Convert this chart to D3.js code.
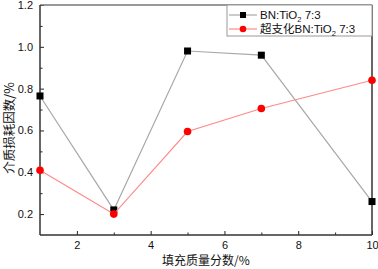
<!DOCTYPE html>
<html>
<head>
<meta charset="utf-8">
<script src="https://cdn.jsdelivr.net/npm/d3@7"></script>
<style>
  body { margin: 0; background: #fff; }
  svg { display: block; }
  .tick text { font-family: "Liberation Sans", Arial, sans-serif; font-size: 11px; fill: #111; }
</style>
</head>
<body>
<div id="chart"></div>
<script>
// data
const fillMass = [1, 3, 5, 7, 10];
const bnTio2 = [0.765, 0.22, 0.98, 0.96, 0.26];
const hbBnTio2 = [0.41, 0.20, 0.595, 0.705, 0.84];
const seriesNames = ["BN:TiO", "超支化BN:TiO"];
const xTicks = [2, 4, 6, 8, 10];
const yTicks = [0.2, 0.4, 0.6, 0.8, 1.0, 1.2];

const width = 378, height = 269;
const margin = { top: 5, right: 6, bottom: 34, left: 40 };
const w = width - margin.left - margin.right;
const h = height - margin.top - margin.bottom;

const svg = d3.select("#chart").append("svg")
  .attr("width", width)
  .attr("height", height);

const g = svg.append("g").attr("transform", `translate(${margin.left},${margin.top})`);

const x = d3.scaleLinear().domain([1, 10]).range([0, w]);
const y = d3.scaleLinear().domain([0.1, 1.2]).range([h, 0]);

// minor ticks first
g.append("g").attr("transform", `translate(0,${h})`)
  .call(d3.axisBottom(x).tickValues([3, 5, 7, 9]).tickSize(-2.5).tickFormat(""))
  .call(a => a.select(".domain").remove())
  .selectAll("line").attr("stroke", "#222");
g.append("g")
  .call(d3.axisLeft(y).tickValues([0.3, 0.5, 0.7, 0.9, 1.1]).tickSize(-2.5).tickFormat(""))
  .call(a => a.select(".domain").remove())
  .selectAll("line").attr("stroke", "#222");

// major ticks
const xAxis = g.append("g").attr("transform", `translate(0,${h})`)
  .call(d3.axisBottom(x).tickValues(xTicks).tickSize(-4).tickPadding(6).tickFormat(d3.format("d")));
xAxis.select(".domain").remove();
xAxis.selectAll("line").attr("stroke", "#222");

const yAxis = g.append("g")
  .call(d3.axisLeft(y).tickValues(yTicks).tickSize(-4).tickPadding(7).tickFormat(d3.format(".1f")));
yAxis.select(".domain").remove();
yAxis.selectAll("line").attr("stroke", "#222");

// frame
g.append("line").attr("x1", 0).attr("x2", w).attr("y1", 0).attr("y2", 0)
  .attr("stroke", "#777").attr("stroke-width", 1.5);
g.append("line").attr("x1", 0).attr("x2", 0).attr("y1", 0).attr("y2", h)
  .attr("stroke", "#333").attr("stroke-width", 1.5);
g.append("line").attr("x1", 0).attr("x2", w).attr("y1", h).attr("y2", h)
  .attr("stroke", "#333").attr("stroke-width", 1.5);
g.append("line").attr("x1", w).attr("x2", w).attr("y1", 0).attr("y2", h)
  .attr("stroke", "#333").attr("stroke-width", 1.5);

const line = d3.line().x(d => x(d[0])).y(d => y(d[1]));

// series 1: black squares, grey line
const s1 = fillMass.map((v, i) => [v, bnTio2[i]]);
g.append("path").datum(s1).attr("d", line)
  .attr("fill", "none").attr("stroke", "#a8a8a8").attr("stroke-width", 1.2);
g.selectAll(".sq").data(s1).join("rect")
  .attr("x", d => x(d[0]) - 3.5).attr("y", d => y(d[1]) - 3.5)
  .attr("width", 7).attr("height", 7).attr("fill", "#000");

// series 2: red circles, light red line
const s2 = fillMass.map((v, i) => [v, hbBnTio2[i]]);
g.append("path").datum(s2).attr("d", line)
  .attr("fill", "none").attr("stroke", "#ff8a8a").attr("stroke-width", 1.2);
g.selectAll(".dot").data(s2).join("circle")
  .attr("cx", d => x(d[0])).attr("cy", d => y(d[1])).attr("r", 3.8)
  .attr("fill", "#f00");

// legend
const lg = g.append("g").attr("transform", `translate(${x(1) + 187},0)`);
lg.append("rect").attr("x", 0).attr("y", 0).attr("width", w - 187).attr("height", 31)
  .attr("fill", "#fff").attr("stroke", "#999").attr("stroke-width", 1);
const legendRows = [
  { name: seriesNames[0], stroke: "#a8a8a8", shape: "square", yy: 10 },
  { name: seriesNames[1], stroke: "#ff8a8a", shape: "circle", yy: 24 }
];
legendRows.forEach(r => {
  lg.append("line").attr("x1", 2).attr("x2", 30).attr("y1", r.yy).attr("y2", r.yy)
    .attr("stroke", r.stroke).attr("stroke-width", 1.2);
  if (r.shape === "square") {
    lg.append("rect").attr("x", 13).attr("y", r.yy - 3).attr("width", 6).attr("height", 6).attr("fill", "#000");
  } else {
    lg.append("circle").attr("cx", 16).attr("cy", r.yy).attr("r", 3.3).attr("fill", "#f00");
  }
  const t = lg.append("text").attr("x", 33).attr("y", r.yy + 4)
    .style("font-family", "'Liberation Sans', 'Noto Sans CJK SC', sans-serif")
    .style("font-size", "11.5px").attr("fill", "#111");
  t.append("tspan").text(r.name);
  t.append("tspan").attr("dy", 3).style("font-size", "7.5px").text("2");
  t.append("tspan").attr("dy", -3).text("  7:3");
});

// axis titles
svg.append("text")
  .attr("x", 206).attr("y", 265)
  .attr("text-anchor", "middle")
  .style("font-family", "'Noto Sans CJK SC', sans-serif")
  .style("font-size", "12px").attr("fill", "#111")
  .text("填充质量分数/%");

svg.append("text")
  .attr("transform", `translate(14,128) rotate(-90)`)
  .attr("text-anchor", "middle")
  .style("font-family", "'Noto Sans CJK SC', sans-serif")
  .style("font-size", "12.5px").attr("fill", "#111")
  .text("介质损耗因数/%");
</script>
</body>
</html>
